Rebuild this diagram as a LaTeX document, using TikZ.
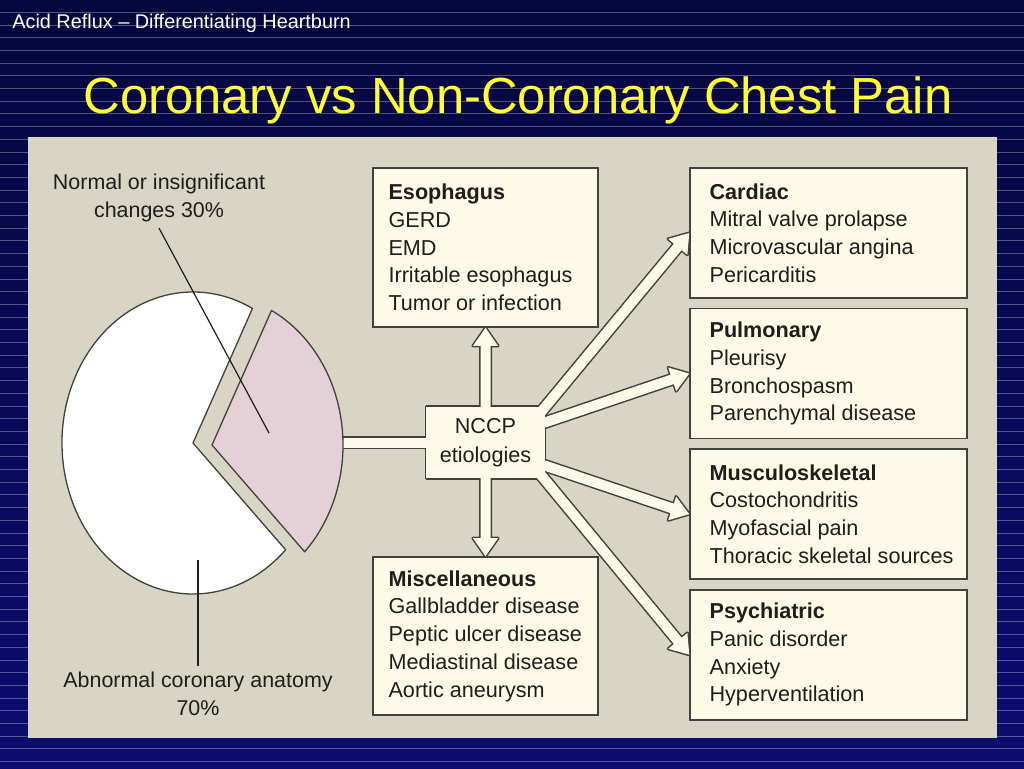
\documentclass[tikz,border=0pt]{standalone}
\usepackage{fontspec}
\setmainfont{Liberation Sans}
\usetikzlibrary{calc,positioning}

\definecolor{navytop}{RGB}{6,6,62}
\definecolor{navybot}{RGB}{12,12,112}
\definecolor{panel}{RGB}{216,213,196}
\definecolor{cream}{RGB}{253,251,232}
\definecolor{edge}{RGB}{66,66,60}
\definecolor{ink}{RGB}{30,30,28}
\definecolor{slice}{RGB}{228,208,214}
\definecolor{titleyellow}{RGB}{255,255,51}

% hollow arrow: #1 style, #2 start, #3 tip
\newcommand{\hollowarrow}[3]{%
  \coordinate (hs) at ($(#2)!-0.4cm!(#3)$);
  \coordinate (hb) at ($(#3)!0.36cm!(#2)$);
  \path[#1] ($(hs)!0.1cm!90:(#3)$) -- ($(hb)!0.1cm!-90:(hs)$) -- ($(hb)!0.25cm!-90:(hs)$) -- (#3)
    -- ($(hb)!0.25cm!90:(hs)$) -- ($(hb)!0.1cm!90:(hs)$) -- ($(hs)!0.1cm!-90:(#3)$) -- cycle;
}

\begin{document}
\begin{tikzpicture}[x=0.02cm, y=-0.02cm,
    box/.style={draw=edge, line width=0.032cm, fill=cream, inner sep=0pt, minimum width=5.54cm},
    boxtxt/.style={font=\fontsize{12.3}{15.8}\selectfont, text=ink, align=left, inner sep=0pt, anchor=west},
    cue/.style={font=\fontsize{12.2}{15.8}\selectfont, text=ink, align=center},
    pass1/.style={draw=edge, line width=0.06cm, line join=round, fill=cream},
    pass2/.style={fill=cream},
    wedge/.style={draw=edge, line width=0.026cm, line join=round},
    leader/.style={draw=ink, line width=0.024cm},
    stripe/.style={white, opacity=0.3, line width=0.02cm}
]
\useasboundingbox (0,0) rectangle (1024,768);

% Slide background
\shade[top color=navytop, bottom color=navybot] (0,0) rectangle (1024,768);
\foreach \i in {1,...,60}
    \draw[stripe] (0,{12.7*\i-0.4}) -- (1024,{12.7*\i-0.4});

\node[anchor=base west, inner sep=0pt, text=white, font=\fontsize{11.3}{13}\selectfont] (subtitle) at (12,28) {Acid Reflux -- Differentiating Heartburn};
\node[anchor=base, inner sep=0pt, text=titleyellow, font=\fontsize{28.9}{34}\selectfont] (title) at (518,113) {Coronary vs Non-Coronary Chest Pain};

% Figure panel
\fill[panel] (28,137) rectangle (997,738);

% Etiology boxes
\node[box, minimum width=4.5cm, minimum height=3.18cm] (eso) at (485.5,247.5) {};
\node[box, minimum width=4.5cm, minimum height=3.16cm] (misc) at (485.5,636) {};
\node[box, minimum height=2.6cm] (card) at (828.5,233) {};
\node[box, minimum height=2.6cm, below=0.18cm of card] (pulm) {};
\node[box, minimum height=2.6cm, below=0.18cm of pulm] (musc) {};
\node[box, minimum height=2.6cm, below=0.18cm of musc] (psych) {};

\node[boxtxt] (esotxt) at ($(eso.west)+(16,0)$) {\textbf{Esophagus}\\GERD\\EMD\\Irritable esophagus\\Tumor or infection};
\node[boxtxt] (misctxt) at ($(misc.west)+(16,0)$) {\textbf{Miscellaneous}\\Gallbladder disease\\Peptic ulcer disease\\Mediastinal disease\\Aortic aneurysm};
\node[boxtxt] (cardtxt) at ($(card.west)+(20,0)$) {\textbf{Cardiac}\\Mitral valve prolapse\\Microvascular angina\\Pericarditis};
\node[boxtxt] (pulmtxt) at ($(pulm.west)+(20,0)$) {\textbf{Pulmonary}\\Pleurisy\\Bronchospasm\\Parenchymal disease};
\node[boxtxt] (musctxt) at ($(musc.west)+(20,0)$) {\textbf{Musculoskeletal}\\Costochondritis\\Myofascial pain\\Thoracic skeletal sources};
\node[boxtxt] (psychtxt) at ($(psych.west)+(20,0)$) {\textbf{Psychiatric}\\Panic disorder\\Anxiety\\Hyperventilation};

% NCCP hub with hollow arrows
\node[minimum width=2.36cm, minimum height=1.42cm, inner sep=0pt] (nccp) at (485.5,442.5) {};
\coordinate (piejoin) at (338,442.5);
\coordinate (cardfrom) at ($(nccp.north east)+(-6,8)$);
\coordinate (pulmfrom) at ($(nccp.east)+(0,-20)$);
\coordinate (muscfrom) at ($(nccp.east)+(0,23)$);
\coordinate (psychfrom) at ($(nccp.south east)+(-6,-6)$);

\foreach \pass in {pass1,pass2} {
    \path[\pass] (nccp.south west) rectangle (nccp.north east);
    \path[\pass] ($(piejoin)+(0,-5)$) rectangle ($(nccp.west)+(6,5)$);
    \hollowarrow{\pass}{nccp.north}{eso.south}
    \hollowarrow{\pass}{nccp.south}{misc.north}
    \hollowarrow{\pass}{cardfrom}{card.west}
    \hollowarrow{\pass}{pulmfrom}{pulm.west}
    \hollowarrow{\pass}{muscfrom}{musc.west}
    \hollowarrow{\pass}{psychfrom}{psych.west}
}
\node[font=\fontsize{12.3}{16.5}\selectfont, text=ink, align=center] (nccptxt) at (nccp.center) {NCCP\\etiologies};

% Pie chart
\draw[wedge, fill=white] (193,443) -- ++(-63:131 and 151) arc[start angle=-63, end angle=-315, x radius=131, y radius=151] -- cycle;
\draw[wedge, fill=slice] (212,445) -- ++(45:131 and 151) arc[start angle=45, end angle=-63, x radius=131, y radius=151] -- cycle;

% Pie labels
\node[cue] (normlbl) at (159,198) {Normal or insignificant\\changes 30\%};
\node[cue] (abnlbl) at (198,694) {Abnormal coronary anatomy\\70\%};
\coordinate (slicept) at (269,433);
\coordinate (whitept) at (198,560);
\draw[leader] (normlbl.south) -- (slicept);
\draw[leader] (whitept) -- (abnlbl.north);

\end{tikzpicture}
\end{document}
